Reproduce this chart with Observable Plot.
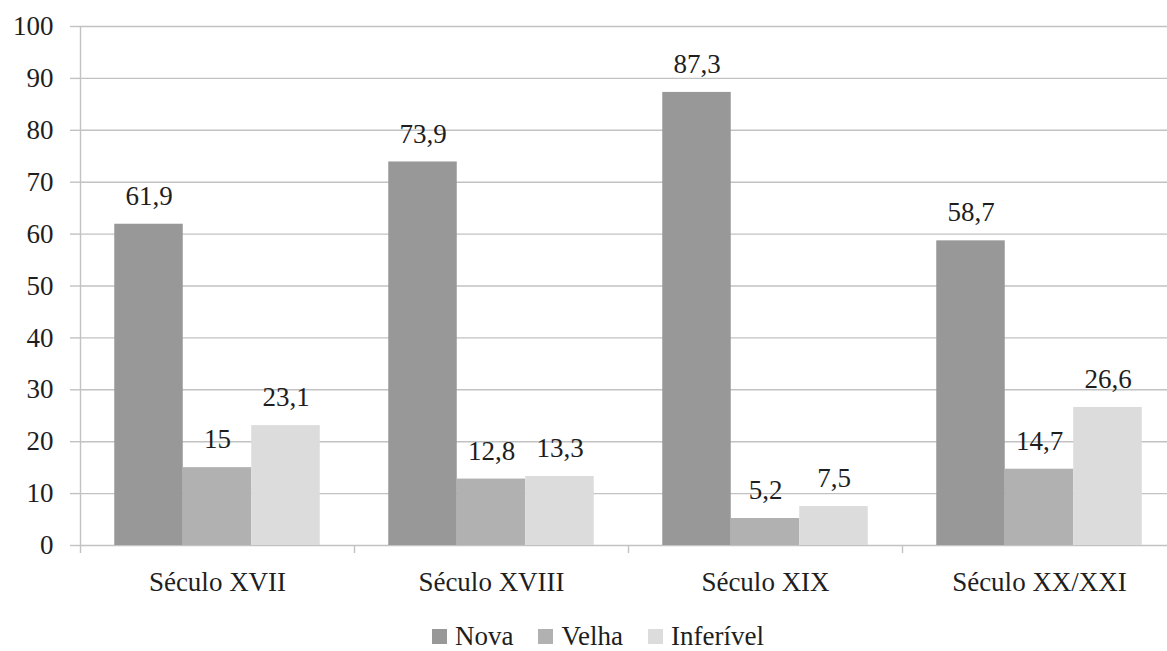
<!DOCTYPE html>
<html>
<head>
<meta charset="utf-8">
<script src="https://cdn.jsdelivr.net/npm/d3@7"></script>
<script src="https://cdn.jsdelivr.net/npm/@observablehq/plot@0.6"></script>
<style>
  html, body { margin: 0; padding: 0; background: #fff; overflow: hidden; }
  body { position: relative; width: 1167px; height: 651px; font-family: "Times New Roman", Times, "Liberation Serif", "Noto Serif", "DejaVu Serif", FreeSerif, serif; }
  #chart svg, #chart svg text { font-family: "Times New Roman", Times, "Liberation Serif", "Noto Serif", "DejaVu Serif", FreeSerif, serif !important; }
  #legend { position: absolute; left: 432px; top: 618px; height: 36px; display: flex; align-items: center; font-size: 27px; color: #1e1e1e; }
  #legend .item { display: flex; align-items: center; margin-right: 25px; }
  #legend .sw { width: 15px; height: 15px; margin-right: 8px; }
</style>
</head>
<body>
<div id="chart"></div>
<div id="legend"></div>
<script>
// Categories (centuries) and series
const centuries = ["Século XVII", "Século XVIII", "Século XIX", "Século XX/XXI"];
const series = ["Nova", "Velha", "Inferível"];

// Percentages per series, one value per century
const nova = [61.9, 73.9, 87.3, 58.7];
const velha = [15, 12.8, 5.2, 14.7];
const inferivel = [23.1, 13.3, 7.5, 26.6];

// Axis ticks
const yTicks = [0, 10, 20, 30, 40, 50, 60, 70, 80, 90, 100];

const seriesColors = ["#989898", "#b1b1b1", "#dcdcdc"];
const gridColor = "#c2c2c2";
const textColor = "#1e1e1e";
const serif = "'Times New Roman', Times, 'Liberation Serif', 'Noto Serif', 'DejaVu Serif', FreeSerif, serif";

// Build the long table: each century spans one unit on x; within it the
// three bars occupy quarter-width slots with half a slot of padding each side.
const values = [nova, velha, inferivel];
const rows = [];
centuries.forEach((c, i) => {
  series.forEach((s, j) => {
    const x1 = i + (0.5 + j) / 4;
    rows.push({century: c, series: s, value: values[j][i], x1, x2: x1 + 0.25});
  });
});

const fmt = v => String(v).replace(".", ",");

const chart = Plot.plot({
  width: 1167,
  height: 612,
  marginLeft: 80,
  marginRight: 0,
  marginTop: 26,
  marginBottom: 67,
  style: {fontFamily: serif, fontSize: "27px", background: "#fff", overflow: "hidden"},
  x: {domain: [0, centuries.length], range: [80, 1176]},
  y: {domain: [0, 100]},
  color: {domain: series, range: seriesColors},
  marks: [
    Plot.ruleY(yTicks, {stroke: gridColor, strokeWidth: 1.4}),
    Plot.axisY({ticks: yTicks, tickSize: 10, tickPadding: 17, stroke: gridColor, strokeWidth: 1.4, fill: textColor, fontSize: 27, fontFamily: serif, label: null, tickFormat: d => String(d)}),
    Plot.ruleX([0], {y1: 0, y2: 100, stroke: gridColor, strokeWidth: 1.4}),
    Plot.axisX(d3.range(centuries.length + 1), {tickSize: 8, stroke: gridColor, strokeWidth: 1.4, tickFormat: () => "", label: null}),
    Plot.axisX(centuries.map((c, i) => i + 0.5), {tickSize: 0, tickPadding: 26, fill: textColor, fontSize: 27, fontFamily: serif, label: null, tickFormat: d => centuries[d - 0.5]}),
    Plot.rectY(rows, {x1: "x1", x2: "x2", y1: 0, y2: "value", fill: "series"}),
    Plot.text(rows, {x: d => (d.x1 + d.x2) / 2, y: "value", text: d => fmt(d.value), dy: -28, lineAnchor: "middle", fill: textColor, fontSize: 27, fontFamily: serif})
  ]
});
document.getElementById("chart").appendChild(chart);

// Legend below the plot
const legend = document.getElementById("legend");
series.forEach((s, j) => {
  const item = document.createElement("div");
  item.className = "item";
  const sw = document.createElement("span");
  sw.className = "sw";
  sw.style.background = seriesColors[j];
  const label = document.createElement("span");
  label.textContent = s;
  item.appendChild(sw);
  item.appendChild(label);
  legend.appendChild(item);
});
</script>
</body>
</html>
